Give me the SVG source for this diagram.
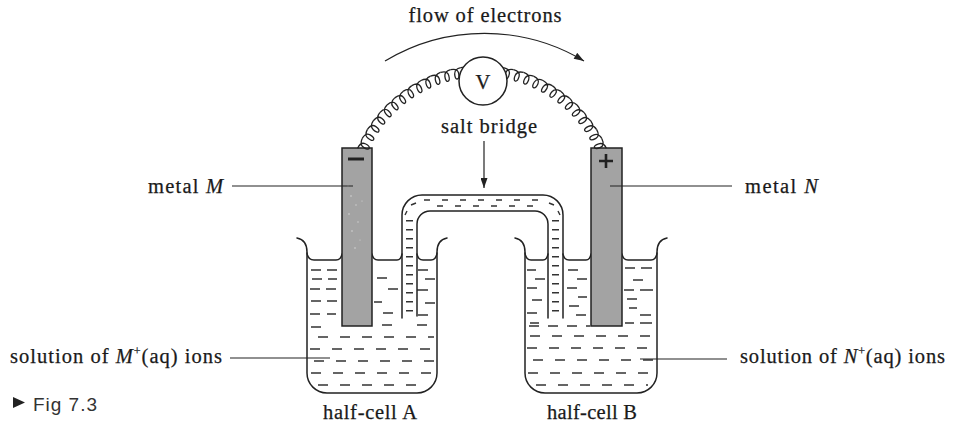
<svg xmlns="http://www.w3.org/2000/svg" xmlns:xlink="http://www.w3.org/1999/xlink" width="956" height="430" viewBox="0 0 956 430">
<style>
.ln{fill:none;stroke:#222;stroke-width:1.5;stroke-linecap:round;stroke-linejoin:round}
.thin{fill:none;stroke:#222;stroke-width:1.2}
.coil{fill:none;stroke:#222;stroke-width:1.3}
.liq{fill:none;stroke:#333;stroke-width:1.4}
.el{fill:#a3a3a3;stroke:#222;stroke-width:1.5}
.t{font-family:"Liberation Serif","Times New Roman",serif;font-size:20.5px;fill:#1a1a1a;stroke:#1a1a1a;stroke-width:0.25}
.i{font-style:italic}
.sans{font-family:"Liberation Sans",Arial,sans-serif;font-size:19px;fill:#333}
</style>
<defs>
<marker id="ah" viewBox="0 0 10 7" refX="10" refY="3.5" markerWidth="11" markerHeight="7" markerUnits="userSpaceOnUse" orient="auto">
<path d="M0,0 L10,3.5 L0,7 z" fill="#222"/>
</marker>
<path id="coil" class="coil" d="M476.75,66 C481,66 484,67 484,71 C484,75 483,76.5 481.5,76.5 C480,76.5 479.5,74 480,71 C480.5,68 483,66 487.25,66"/>
</defs>
<rect width="956" height="430" fill="#fff"/>

<g id="beaker-A">
<path class="ln" d="M297,238 Q307,240 307,252 V373 A20,20 0 0,0 327,393 H417 A20,20 0 0,0 437,373 V252 Q437,240 447,238"/>
<path class="ln" d="M307,253 Q308,260 314,260 H336 Q341,260 342,254 M372,254 Q373,260 378,260 H397 Q401,260 402,254 M417,254 Q418,260 423,260 H431 Q436,260 437,253"/>
<path class="liq" d="M311,270h10 M327,270h10 M312,279h10 M328,279h9 M310,289h10 M326,289h10 M311,301h10 M327,301h10 M310,314h10 M327,314h9 M311,327h10
M377,278h10 M388,289h10 M374,302h8 M383,313h10 M382,325h10
M418,270h10 M425,279h10 M417,290h11 M425,303h10 M418,315h10 M417,325h10"/>
<path class="liq" stroke-dasharray="10 12" d="M318,337H434 M310,349H434 M314,361H434 M311,373H434 M318,385H428"/>
</g>

<g id="beaker-B">
<path class="ln" d="M515,238 Q525,240 525,252 V373 A20,20 0 0,0 545,393 H637 A20,20 0 0,0 657,373 V252 Q657,240 667,238"/>
<path class="ln" d="M525,253 Q526,260 531,260 H543 Q547,260 548,254 M563,254 Q564,260 569,260 H586 Q590,260 591,254 M622,254 Q623,260 628,260 H651 Q656,260 657,253"/>
<path class="liq" d="M527,270h9 M535,279h10 M527,288h10 M532,300h10 M527,313h10 M530,323h9
M568,270h10 M577,279h10 M567,288h10 M578,297h9 M569,306h10 M576,315h10
M625,268h10 M641,268h11 M633,280h10 M624,290h10 M640,290h13 M627,299h10 M629,308h8 M640,315h11 M625,323h9 M640,323h12"/>
<path class="liq" stroke-dasharray="10 9" d="M529,326H590"/>
<path class="liq" stroke-dasharray="10 12" d="M530,336H655 M527,348H655 M533,360H655 M528,373H655 M536,385H648"/>
</g>

<g id="salt-bridge">
<path class="ln" d="M402,318 V215 A20,20 0 0,1 422,195 H543 A20,20 0 0,1 563,215 V318"/>
<path class="ln" d="M417,316 V224 A13,13 0 0,1 430,211 H535 A13,13 0 0,1 548,224 V318"/>
<path class="liq" stroke-dasharray="6 12" d="M424,200H545"/>
<path class="liq" stroke-dasharray="6 12" stroke-dashoffset="9" d="M428,206H540"/>
<path class="liq" d="M405,215 l2,-4 M411,205 l5,-2 M560,215 l-2,-4 M554,205 l-5,-2"/>
<line x1="409.5" y1="220" x2="409.5" y2="316" stroke="#333" stroke-width="7" stroke-dasharray="1.4 7.6"/>
<line x1="555.5" y1="220" x2="555.5" y2="316" stroke="#333" stroke-width="7" stroke-dasharray="1.4 7.6"/>
</g>

<g id="electrode-M">
<rect class="el" x="342" y="148" width="30" height="178"/>
<line x1="348" y1="159" x2="364" y2="159" stroke="#222" stroke-width="3"/>
<g fill="#d6d6d6">
<circle cx="351" cy="196" r="0.8"/><circle cx="356" cy="205" r="0.7"/><circle cx="349" cy="214" r="0.8"/><circle cx="358" cy="222" r="0.7"/><circle cx="352" cy="231" r="0.8"/><circle cx="360" cy="240" r="0.6"/><circle cx="355" cy="248" r="0.8"/><circle cx="348" cy="186" r="0.7"/><circle cx="362" cy="201" r="0.6"/>
</g>
</g>

<g id="electrode-N">
<rect class="el" x="591" y="148" width="31" height="178"/>
<path d="M599,161 H613 M606,154 V168" stroke="#222" stroke-width="2.6" fill="none"/>
</g>

<g id="connectors">
<g id="wire">
<use xlink:href="#coil" transform="rotate(-64.77 482 201)"/>
<use xlink:href="#coil" transform="rotate(-60.31 482 201)"/>
<use xlink:href="#coil" transform="rotate(-55.85 482 201)"/>
<use xlink:href="#coil" transform="rotate(-51.39 482 201)"/>
<use xlink:href="#coil" transform="rotate(-46.93 482 201)"/>
<use xlink:href="#coil" transform="rotate(-42.47 482 201)"/>
<use xlink:href="#coil" transform="rotate(-38.01 482 201)"/>
<use xlink:href="#coil" transform="rotate(-33.55 482 201)"/>
<use xlink:href="#coil" transform="rotate(-29.09 482 201)"/>
<use xlink:href="#coil" transform="rotate(-24.63 482 201)"/>
<use xlink:href="#coil" transform="rotate(-20.17 482 201)"/>
<use xlink:href="#coil" transform="rotate(-15.71 482 201)"/>
<use xlink:href="#coil" transform="rotate(-11.25 482 201)"/>
<use xlink:href="#coil" transform="rotate(11.25 482 201)"/>
<use xlink:href="#coil" transform="rotate(15.71 482 201)"/>
<use xlink:href="#coil" transform="rotate(20.17 482 201)"/>
<use xlink:href="#coil" transform="rotate(24.63 482 201)"/>
<use xlink:href="#coil" transform="rotate(29.09 482 201)"/>
<use xlink:href="#coil" transform="rotate(33.55 482 201)"/>
<use xlink:href="#coil" transform="rotate(38.01 482 201)"/>
<use xlink:href="#coil" transform="rotate(42.47 482 201)"/>
<use xlink:href="#coil" transform="rotate(46.93 482 201)"/>
<use xlink:href="#coil" transform="rotate(51.39 482 201)"/>
<use xlink:href="#coil" transform="rotate(55.85 482 201)"/>
<use xlink:href="#coil" transform="rotate(60.31 482 201)"/>
<use xlink:href="#coil" transform="rotate(64.77 482 201)"/>
<path class="coil" d="M460.83,67.67 A135,135 0 0,1 472.58,66.33 M503.17,67.67 A135,135 0 0,0 491.42,66.33"/>
</g>
<path class="thin" d="M385,61 A193,193 0 0,1 584,61" marker-end="url(#ah)"/>
<line class="thin" x1="484" y1="141" x2="484" y2="188" stroke-width="1" marker-end="url(#ah)"/>
<line class="thin" x1="232" y1="186" x2="353" y2="186"/>
<line class="thin" x1="610" y1="186" x2="732" y2="186"/>
<line class="thin" x1="230" y1="358" x2="330" y2="358"/>
<line class="thin" x1="640" y1="359" x2="727" y2="359"/>
</g>

<g id="voltmeter">
<circle cx="483" cy="81" r="24" fill="#fff" stroke="#222" stroke-width="1.5"/>
<text class="t" x="483" y="89" text-anchor="middle" font-size="20">V</text>
</g>

<g id="labels">
<text class="t" x="485" y="22" text-anchor="middle" textLength="153" lengthAdjust="spacing">flow of electrons</text>
<text class="t" x="489" y="133" text-anchor="middle" textLength="96" lengthAdjust="spacing">salt bridge</text>
<text class="t" x="148" y="193" textLength="75" lengthAdjust="spacing">metal <tspan class="i">M</tspan></text>
<text class="t" x="745" y="193" textLength="73" lengthAdjust="spacing">metal <tspan class="i">N</tspan></text>
<text class="t" x="10" y="363" textLength="212" lengthAdjust="spacing">solution of <tspan class="i">M</tspan><tspan font-size="12" dy="-8">+</tspan><tspan dy="8">(aq) ions</tspan></text>
<text class="t" x="740" y="363" textLength="205" lengthAdjust="spacing">solution of <tspan class="i">N</tspan><tspan font-size="12" dy="-8">+</tspan><tspan dy="8">(aq) ions</tspan></text>
<text class="t" x="370" y="419" text-anchor="middle" textLength="94" lengthAdjust="spacing">half-cell A</text>
<text class="t" x="592" y="419" text-anchor="middle" textLength="90" lengthAdjust="spacing">half-cell B</text>
<polygon points="13,397 25,402.5 13,408" fill="#222"/>
<text class="sans" x="33" y="411" textLength="64" lengthAdjust="spacing">Fig 7.3</text>
</g>
</svg>
